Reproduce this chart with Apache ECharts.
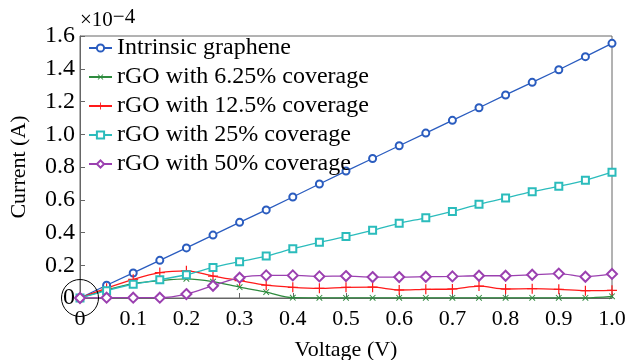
<!DOCTYPE html>
<html>
<head>
<meta charset="utf-8">
<script src="https://cdn.jsdelivr.net/npm/echarts@6/dist/echarts.min.js"></script>
<style>
  html, body { margin: 0; padding: 0; background: #fff; }
  #chart { width: 630px; height: 360px; }
</style>
</head>
<body>
<div id="chart"></div>
<script>
// voltage steps (V)
const voltage = [0, 0.05, 0.1, 0.15, 0.2, 0.25, 0.3, 0.35, 0.4, 0.45, 0.5,
  0.55, 0.6, 0.65, 0.7, 0.75, 0.8, 0.85, 0.9, 0.95, 1.0]

// current values in units of 1e-4 A
const intrinsic = [0, 0.078, 0.153, 0.23, 0.306, 0.384, 0.462, 0.538, 0.617, 0.696, 0.775,
  0.852, 0.93, 1.007, 1.085, 1.162, 1.24, 1.317, 1.394, 1.474, 1.555]
const cov625 = [0, 0.05, 0.088, 0.106, 0.117, 0.1, 0.066, 0.036, 0.002, 0.001, 0.001,
  0.001, 0.001, 0.001, 0.001, 0.001, 0.001, 0.001, 0.001, 0.001, 0.01]
const cov125 = [0, 0.06, 0.114, 0.155, 0.166, 0.134, 0.106, 0.078, 0.065, 0.059, 0.065,
  0.066, 0.049, 0.053, 0.055, 0.073, 0.055, 0.057, 0.053, 0.045, 0.047]
const cov25 = [0, 0.045, 0.084, 0.112, 0.142, 0.187, 0.222, 0.256, 0.301, 0.34, 0.375,
  0.413, 0.456, 0.49, 0.529, 0.572, 0.611, 0.649, 0.682, 0.719, 0.768]
const cov50 = [0, 0.002, 0.002, 0.002, 0.024, 0.075, 0.124, 0.138, 0.138, 0.132, 0.134,
  0.128, 0.128, 0.13, 0.132, 0.136, 0.136, 0.142, 0.149, 0.13, 0.147]

const names = ['Intrinsic graphene', 'rGO with 6.25% coverage', 'rGO with 12.5% coverage',
  'rGO with 25% coverage', 'rGO with 50% coverage']

const font = "'Liberation Serif', 'Times New Roman', serif"
const plus = 'path://M4.4,0h1.2v10h-1.2z M0,4.4h10v1.2h-10z'

function pairs(vals) {
  return voltage.map((v, i) => [v, vals[i]])
}

function lineSeries(name, vals, color, symbol, size, extra) {
  return Object.assign({
    name: name,
    type: 'line',
    data: pairs(vals),
    smooth: 0.3,
    symbol: symbol,
    symbolSize: size,
    lineStyle: { color: color, width: 1.3 },
    itemStyle: { color: color, borderColor: color, borderWidth: 1.3 },
    emphasis: { disabled: true }
  }, extra || {})
}

const chart = echarts.init(document.getElementById('chart'))

const option = {
  animation: false,
  textStyle: { fontFamily: font },
  grid: {
    left: 80, right: 18, top: 36, bottom: 62,
    outerBoundsMode: 'none',
    show: true, borderColor: '#666', borderWidth: 1
  },
  legend: {
    orient: 'vertical',
    left: 83, top: 31,
    itemGap: 5,
    itemWidth: 23, itemHeight: 9,
    textStyle: { fontFamily: font, fontSize: 24, color: '#000' },
    data: names
  },
  graphic: [{
    type: 'text',
    left: 80, top: 7,
    style: {
      text: '×10{s|−4}',
      font: '21px ' + font,
      fill: '#000',
      rich: { s: { fontSize: 21, fontFamily: font, padding: [0, 0, 5, 0] } }
    }
  }],
  xAxis: {
    type: 'value',
    min: 0, max: 1, interval: 0.1,
    name: 'Voltage (V)',
    nameLocation: 'middle',
    nameGap: 41,
    nameTextStyle: { fontFamily: font, fontSize: 22, color: '#000' },
    axisLine: { lineStyle: { color: '#666' } },
    axisTick: { inside: true, length: 5, lineStyle: { color: '#666' } },
    splitLine: { show: false },
    axisLabel: {
      fontFamily: font, fontSize: 22, color: '#000', margin: 10,
      formatter: v => v === 0 ? '0' : v.toFixed(1)
    }
  },
  yAxis: {
    type: 'value',
    min: 0, max: 1.6, interval: 0.2,
    name: 'Current (A)',
    nameLocation: 'middle',
    nameGap: 50,
    nameTextStyle: { fontFamily: font, fontSize: 22, color: '#000' },
    axisLine: { show: true, lineStyle: { color: '#666' } },
    axisTick: { show: true, inside: true, length: 5, lineStyle: { color: '#666' } },
    splitLine: { show: false },
    axisLabel: {
      fontFamily: font, fontSize: 24, color: '#000', margin: 5,
      formatter: v => v === 0 ? '0' : v.toFixed(1)
    }
  },
  series: [
    lineSeries(names[0], intrinsic, '#2a5cbf', 'emptyCircle', 7, {
      smooth: false,
      markPoint: {
        silent: true,
        symbol: 'circle',
        symbolSize: 37,
        itemStyle: { color: 'rgba(0,0,0,0)', borderColor: '#000', borderWidth: 1 },
        label: { show: false },
        data: [{ coord: [0, 0] }]
      }
    }),
    lineSeries(names[1], cov625, '#2e8b3e', plus, 8, { symbolRotate: 45, itemStyle: { color: '#2e8b3e' } }),
    lineSeries(names[2], cov125, '#ff1a1a', plus, 10, { itemStyle: { color: '#ff1a1a' } }),
    lineSeries(names[3], cov25, '#2bbcbc', 'emptyRect', 7),
    lineSeries(names[4], cov50, '#9b40b0', 'emptyDiamond', 10)
  ]
}

chart.setOption(option)
</script>
</body>
</html>
